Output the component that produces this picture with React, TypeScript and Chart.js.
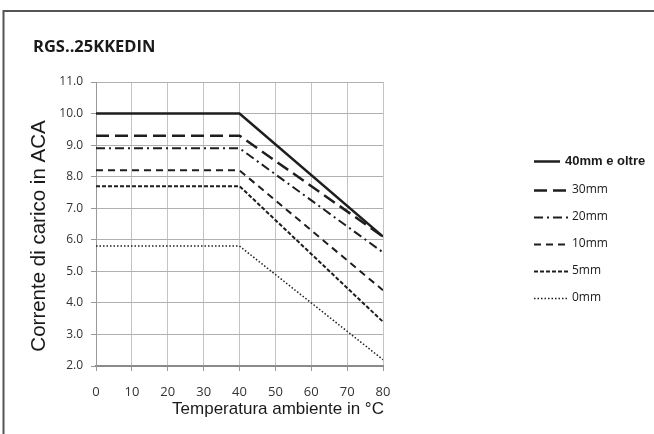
import React, { useEffect, useRef } from "react";
import { Chart, registerables } from "chart.js";

Chart.register(...registerables);

const chartTitle = "RGS..25KKEDIN";
const xAxisTitle = "Temperatura ambiente in °C";
const yAxisTitle = "Corrente di carico in ACA";

const temperatures = [0, 40, 80];
const seriesLabels = ["40mm e oltre", "30mm", "20mm", "10mm", "5mm", "0mm"];
const s40mm = [10.0, 10.0, 6.1];
const s30mm = [9.3, 9.3, 6.1];
const s20mm = [8.9, 8.9, 5.6];
const s10mm = [8.2, 8.2, 4.4];
const s5mm = [7.7, 7.7, 3.4];
const s0mm = [5.8, 5.8, 2.2];

const xMin = 0;
const xMax = 80;
const xStep = 10;
const yMin = 2;
const yMax = 11;
const yStep = 1;

const seriesValues = [s40mm, s30mm, s20mm, s10mm, s5mm, s0mm];
const seriesStyles = [
  { width: 2.5, dash: [] as number[] },
  { width: 2.5, dash: [13, 6] },
  { width: 2, dash: [9, 4, 2, 4] },
  { width: 2, dash: [7, 5] },
  { width: 2, dash: [4, 2] },
  { width: 1.5, dash: [1.5, 2] },
];
const lineColor = "#1e1e1e";

const decorPlugin = {
  id: "decor",
  afterDraw(chart: any) {
    const ctx = chart.ctx;
    ctx.save();
    // outer frame
    ctx.strokeStyle = "#555555";
    ctx.lineWidth = 2;
    ctx.beginPath();
    ctx.moveTo(3.5, 434);
    ctx.lineTo(3.5, 11);
    ctx.lineTo(654, 11);
    ctx.stroke();

    // title
    ctx.fillStyle = "#1a1a1a";
    ctx.font = "bold 16.5px 'Open Sans'";
    ctx.textAlign = "left";
    ctx.textBaseline = "middle";
    ctx.fillText(chartTitle, 33, 47);

    // y axis title
    ctx.save();
    ctx.translate(39, 236);
    ctx.rotate(-Math.PI / 2);
    ctx.font = "20.5px 'Liberation Sans'";
    ctx.fillStyle = "#1a1a1a";
    ctx.textAlign = "center";
    ctx.textBaseline = "middle";
    ctx.fillText(yAxisTitle, 0, 0);
    ctx.restore();

    // x axis title
    ctx.font = "17px 'Liberation Sans'";
    ctx.fillStyle = "#1a1a1a";
    ctx.textAlign = "center";
    ctx.textBaseline = "middle";
    ctx.fillText(xAxisTitle, 278, 409);

    // legend
    const rows = [161, 190, 217, 244, 271, 298];
    chart.data.datasets.forEach((ds: any, i: number) => {
      const y = rows[i];
      const x0 = 534;
      const len = i === 0 ? 26 : 35;
      ctx.strokeStyle = ds.borderColor;
      ctx.lineWidth = ds.borderWidth;
      ctx.setLineDash(ds.borderDash || []);
      ctx.beginPath();
      ctx.moveTo(x0, y + 0.5);
      ctx.lineTo(x0 + len, y + 0.5);
      ctx.stroke();
      ctx.setLineDash([]);
      ctx.fillStyle = "#1a1a1a";
      ctx.textAlign = "left";
      ctx.textBaseline = "middle";
      if (i === 0) {
        ctx.font = "bold 13px 'Liberation Sans'";
        ctx.fillText(ds.label, 565, y);
      } else {
        ctx.font = "12px 'Open Sans'";
        ctx.fillText(ds.label, 572, y);
      }
    });
    ctx.restore();
  },
};

export default function App() {
  const canvasRef = useRef<HTMLCanvasElement | null>(null);

  useEffect(() => {
    if (!canvasRef.current) return;
    const datasets = seriesLabels.map((label, i) => ({
      label,
      data: temperatures.map((t, j) => ({ x: t, y: seriesValues[i][j] })),
      borderColor: lineColor,
      backgroundColor: lineColor,
      borderWidth: seriesStyles[i].width,
      borderDash: seriesStyles[i].dash,
      pointRadius: 0,
      fill: false,
      tension: 0,
    }));
    const chart = new Chart(canvasRef.current, {
      type: "line",
      data: { datasets },
      options: {
        responsive: false,
        animation: false,
        devicePixelRatio: 1,
        layout: { padding: { left: 0, top: 82, right: 271, bottom: 0 } },
        plugins: {
          legend: { display: false },
          title: { display: false },
          tooltip: { enabled: false },
        },
        scales: {
          x: {
            type: "linear",
            min: xMin,
            max: xMax,
            afterFit: (scale: any) => {
              scale.height = 68;
            },
            ticks: {
              stepSize: xStep,
              padding: 13,
              color: "#333333",
              font: { family: "'Open Sans'", size: 13 },
            },
            grid: {
              color: "#c4c4c4",
              lineWidth: 1,
              tickLength: 5,
              tickColor: "#999999",
            },
            border: { color: "#8a8a8a", width: 2 },
          },
          y: {
            type: "linear",
            min: yMin,
            max: yMax,
            afterFit: (scale: any) => {
              scale.width = 96;
            },
            ticks: {
              stepSize: yStep,
              padding: 8,
              color: "#333333",
              font: { family: "'Open Sans'", size: 12 },
              callback: (v: any) => Number(v).toFixed(1),
            },
            grid: {
              color: "#b0b0b0",
              lineWidth: 1,
              tickLength: 5,
              tickColor: "#999999",
            },
            border: { color: "#9a9a9a", width: 1 },
          },
        },
      },
      plugins: [decorPlugin],
    });
    return () => chart.destroy();
  }, []);

  return (
    <div style={{ position: "fixed", left: 0, top: 0, width: 654, height: 434, background: "#ffffff" }}>
      <canvas ref={canvasRef} width={654} height={434} style={{ display: "block" }} />
    </div>
  );
}
